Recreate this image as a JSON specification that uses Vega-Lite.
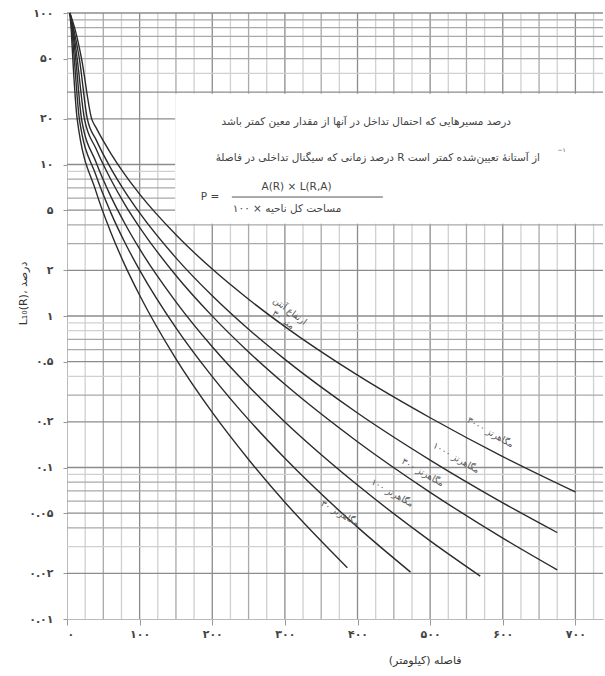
{
  "$schema": "https://vega.github.io/schema/vega-lite/v6.json",
  "width": 536,
  "height": 606,
  "autosize": {"type": "none"},
  "padding": {"left": 67, "top": 13, "right": 2, "bottom": 57},
  "background": "white",
  "config": {
    "view": {"stroke": null},
    "font": "DejaVu Sans",
    "axis": {
      "titleFont": "DejaVu Sans", "titleFontSize": 11, "titleFontWeight": "normal", "titleColor": "#333",
      "labelFont": "DejaVu Sans", "labelFontSize": 11, "labelFontWeight": "bold", "labelColor": "#444",
      "tickColor": "#999", "domainColor": "#bbb", "grid": false
    }
  },
  "datasets": {
    "vgrid": [
      {"d": 25, "cls": "minor"}, {"d": 50, "cls": "mid"}, {"d": 75, "cls": "minor"}, {"d": 100, "cls": "major"},
      {"d": 125, "cls": "minor"}, {"d": 150, "cls": "mid"}, {"d": 175, "cls": "minor"}, {"d": 200, "cls": "major"},
      {"d": 225, "cls": "minor"}, {"d": 250, "cls": "mid"}, {"d": 275, "cls": "minor"}, {"d": 300, "cls": "major"},
      {"d": 325, "cls": "minor"}, {"d": 350, "cls": "mid"}, {"d": 375, "cls": "minor"}, {"d": 400, "cls": "major"},
      {"d": 425, "cls": "minor"}, {"d": 450, "cls": "mid"}, {"d": 475, "cls": "minor"}, {"d": 500, "cls": "major"},
      {"d": 525, "cls": "minor"}, {"d": 550, "cls": "mid"}, {"d": 575, "cls": "minor"}, {"d": 600, "cls": "major"},
      {"d": 625, "cls": "minor"}, {"d": 650, "cls": "mid"}, {"d": 675, "cls": "minor"}, {"d": 700, "cls": "major"},
      {"d": 725, "cls": "minor"}
    ],
    "hgrid": [
      {"P": 0.02, "cls": "major"}, {"P": 0.03, "cls": "minor"}, {"P": 0.04, "cls": "mid"}, {"P": 0.05, "cls": "major"},
      {"P": 0.06, "cls": "mid"}, {"P": 0.07, "cls": "mid"}, {"P": 0.08, "cls": "mid"}, {"P": 0.09, "cls": "minor"},
      {"P": 0.1, "cls": "major"}, {"P": 0.2, "cls": "major"}, {"P": 0.3, "cls": "mid"}, {"P": 0.4, "cls": "minor"},
      {"P": 0.5, "cls": "major"}, {"P": 0.6, "cls": "mid"}, {"P": 0.7, "cls": "mid"}, {"P": 0.8, "cls": "minor"},
      {"P": 0.9, "cls": "minor"}, {"P": 1, "cls": "major"}, {"P": 2, "cls": "major"}, {"P": 3, "cls": "mid"},
      {"P": 4, "cls": "mid"}, {"P": 5, "cls": "major"}, {"P": 6, "cls": "mid"}, {"P": 7, "cls": "mid"},
      {"P": 8, "cls": "mid"}, {"P": 9, "cls": "minor"}, {"P": 10, "cls": "major"}, {"P": 20, "cls": "major"},
      {"P": 30, "cls": "major"}, {"P": 40, "cls": "minor"}, {"P": 50, "cls": "mid"}, {"P": 60, "cls": "mid"},
      {"P": 70, "cls": "mid"}, {"P": 80, "cls": "mid"}, {"P": 90, "cls": "mid"}, {"P": 100, "cls": "major"}
    ],
    "box": [{"d": 149, "d2": 738, "P": 29.3, "P2": 4.06}],
    "bar": [{"d": 227, "d2": 435, "P": 6.1}],
    "curves": [
      {"c": "A", "d": 4, "P": 100}, {"c": "A", "d": 12, "P": 75}, {"c": "A", "d": 20, "P": 50}, {"c": "A", "d": 34, "P": 20},
      {"c": "A", "d": 40, "P": 17.5}, {"c": "A", "d": 60, "P": 11.9}, {"c": "A", "d": 80, "P": 8.53}, {"c": "A", "d": 100, "P": 6.38},
      {"c": "A", "d": 150, "P": 3.44}, {"c": "A", "d": 200, "P": 2.04}, {"c": "A", "d": 250, "P": 1.29}, {"c": "A", "d": 300, "P": 0.851},
      {"c": "A", "d": 400, "P": 0.407}, {"c": "A", "d": 500, "P": 0.213}, {"c": "A", "d": 600, "P": 0.118}, {"c": "A", "d": 700, "P": 0.0689},
      {"c": "B", "d": 4, "P": 100}, {"c": "B", "d": 10, "P": 75}, {"c": "B", "d": 17, "P": 50}, {"c": "B", "d": 28, "P": 20},
      {"c": "B", "d": 40, "P": 14.6}, {"c": "B", "d": 60, "P": 9.5}, {"c": "B", "d": 80, "P": 6.6}, {"c": "B", "d": 100, "P": 4.79},
      {"c": "B", "d": 150, "P": 2.42}, {"c": "B", "d": 200, "P": 1.36}, {"c": "B", "d": 250, "P": 0.818}, {"c": "B", "d": 300, "P": 0.517},
      {"c": "B", "d": 400, "P": 0.229}, {"c": "B", "d": 500, "P": 0.112}, {"c": "B", "d": 600, "P": 0.0585}, {"c": "B", "d": 675, "P": 0.0372},
      {"c": "C", "d": 4, "P": 100}, {"c": "C", "d": 9, "P": 75}, {"c": "C", "d": 14, "P": 50}, {"c": "C", "d": 24, "P": 20},
      {"c": "C", "d": 40, "P": 12.7}, {"c": "C", "d": 60, "P": 8.02}, {"c": "C", "d": 80, "P": 5.42}, {"c": "C", "d": 100, "P": 3.85},
      {"c": "C", "d": 150, "P": 1.85}, {"c": "C", "d": 200, "P": 0.998}, {"c": "C", "d": 250, "P": 0.579}, {"c": "C", "d": 300, "P": 0.354},
      {"c": "C", "d": 400, "P": 0.148}, {"c": "C", "d": 500, "P": 0.0686}, {"c": "C", "d": 600, "P": 0.0342}, {"c": "C", "d": 675, "P": 0.0211},
      {"c": "D", "d": 4, "P": 100}, {"c": "D", "d": 8, "P": 75}, {"c": "D", "d": 12, "P": 50}, {"c": "D", "d": 20, "P": 20},
      {"c": "D", "d": 40, "P": 10.35}, {"c": "D", "d": 60, "P": 6.21}, {"c": "D", "d": 80, "P": 4.05}, {"c": "D", "d": 100, "P": 2.77},
      {"c": "D", "d": 150, "P": 1.24}, {"c": "D", "d": 200, "P": 0.626}, {"c": "D", "d": 250, "P": 0.344}, {"c": "D", "d": 300, "P": 0.2},
      {"c": "D", "d": 400, "P": 0.0766}, {"c": "D", "d": 500, "P": 0.0328}, {"c": "D", "d": 569, "P": 0.0192},
      {"c": "E", "d": 4, "P": 100}, {"c": "E", "d": 7, "P": 75}, {"c": "E", "d": 10, "P": 50}, {"c": "E", "d": 17, "P": 20},
      {"c": "E", "d": 40, "P": 8.45}, {"c": "E", "d": 60, "P": 4.85}, {"c": "E", "d": 80, "P": 3.03}, {"c": "E", "d": 100, "P": 2.01},
      {"c": "E", "d": 150, "P": 0.835}, {"c": "E", "d": 200, "P": 0.398}, {"c": "E", "d": 250, "P": 0.207}, {"c": "E", "d": 300, "P": 0.115},
      {"c": "E", "d": 400, "P": 0.0404}, {"c": "E", "d": 473, "P": 0.0204},
      {"c": "F", "d": 4, "P": 100}, {"c": "F", "d": 6, "P": 75}, {"c": "F", "d": 8, "P": 50}, {"c": "F", "d": 14, "P": 20},
      {"c": "F", "d": 40, "P": 6.62}, {"c": "F", "d": 60, "P": 3.6}, {"c": "F", "d": 80, "P": 2.15}, {"c": "F", "d": 100, "P": 1.37},
      {"c": "F", "d": 150, "P": 0.521}, {"c": "F", "d": 200, "P": 0.231}, {"c": "F", "d": 250, "P": 0.113}, {"c": "F", "d": 300, "P": 0.059},
      {"c": "F", "d": 386, "P": 0.0218}
    ],
    "labels1": [
      {"d": 307, "P": 1.08, "t": "ارتفاع آنتن\n۳۰ متر"}
    ],
    "labels2": [
      {"d": 583, "P": 0.171, "t": "۳۰۰۰ مگاهرتز"},
      {"d": 536, "P": 0.116, "t": "۱۰۰۰ مگاهرتز"},
      {"d": 490, "P": 0.093, "t": "۳۰۰ مگاهرتز"},
      {"d": 448, "P": 0.068, "t": "۱۰۰ مگاهرتز"},
      {"d": 376, "P": 0.05, "t": "۳۰ مگاهرتز"}
    ],
    "boxtext": [
      {"d": 412, "P": 19.08, "t": "درصد مسیرهایی که احتمال تداخل در آنها از مقدار معین کمتر باشد"},
      {"d": 428, "P": 11.04, "t": "درصد زمانی که سیگنال تداخلی در فاصلهٔ R از آستانهٔ تعیین‌شده کمتر است"},
      {"d": 316, "P": 7.11, "t": "A(R) × L(R,A)"},
      {"d": 303, "P": 5.08, "t": "۱۰۰ × مساحت کل ناحیه"},
      {"d": 197, "P": 6.1, "t": "P ="}
    ],
    "sup": [{"d": 681, "P": 12.47, "t": "−۱"}]
  },
  "layer": [
    {
      "data": {"name": "vgrid"},
      "mark": {"type": "rule", "strokeWidth": 1.3},
      "encoding": {
        "x": {
          "field": "d", "type": "quantitative", "title": "فاصله (کیلومتر)",
          "scale": {"domain": [0, 738], "nice": false, "zero": false},
          "axis": {
            "values": [0, 100, 200, 300, 400, 500, 600, 700],
            "labelExpr": "datum.value == 0 ? '۰' : datum.value == 100 ? '۱۰۰' : datum.value == 200 ? '۲۰۰' : datum.value == 300 ? '۳۰۰' : datum.value == 400 ? '۴۰۰' : datum.value == 500 ? '۵۰۰' : datum.value == 600 ? '۶۰۰' : '۷۰۰'",
            "titleX": 394, "titleY": 41, "titleBaseline": "middle", "titleAlign": "right",
            "tickSize": 6, "labelPadding": 3
          }
        },
        "color": {"field": "cls", "type": "nominal", "scale": {"domain": ["major", "mid", "minor"], "range": ["#8c8c8c", "#a9a9a9", "#d0d0d0"]}, "legend": null}
      }
    },
    {
      "data": {"name": "hgrid"},
      "mark": {"type": "rule", "strokeWidth": 1.3},
      "encoding": {
        "y": {
          "field": "P", "type": "quantitative", "title": "L₁₀(R)، درصد",
          "scale": {"type": "log", "domain": [0.01, 100], "nice": false},
          "axis": {
            "values": [100, 50, 20, 10, 5, 2, 1, 0.5, 0.2, 0.1, 0.05, 0.02, 0.01],
            "labelExpr": "datum.value == 100 ? '۱۰۰' : datum.value == 50 ? '۵۰' : datum.value == 20 ? '۲۰' : datum.value == 10 ? '۱۰' : datum.value == 5 ? '۵' : datum.value == 2 ? '۲' : datum.value == 1 ? '۱' : datum.value == 0.5 ? '۰.۵' : datum.value == 0.2 ? '۰.۲' : datum.value == 0.1 ? '۰.۱' : datum.value == 0.05 ? '۰.۰۵' : datum.value == 0.02 ? '۰.۰۲' : '۰.۰۱'",
            "titleX": -44, "titleY": 280, "titleAngle": 270, "titleBaseline": "middle", "titleAlign": "center",
            "tickSize": 4, "labelPadding": 10
          }
        },
        "color": {"field": "cls", "type": "nominal", "legend": null}
      }
    },
    {
      "data": {"name": "box"},
      "mark": {"type": "rect", "color": "white"},
      "encoding": {
        "x": {"field": "d", "type": "quantitative", "title": "فاصله (کیلومتر)"},
        "x2": {"field": "d2"},
        "y": {"field": "P", "type": "quantitative", "title": "L₁₀(R)، درصد"},
        "y2": {"field": "P2"}
      }
    },
    {
      "data": {"name": "bar"},
      "mark": {"type": "rule", "color": "#555", "strokeWidth": 1},
      "encoding": {
        "x": {"field": "d", "type": "quantitative", "title": "فاصله (کیلومتر)"},
        "x2": {"field": "d2"},
        "y": {"field": "P", "type": "quantitative", "title": "L₁₀(R)، درصد"}
      }
    },
    {
      "data": {"name": "curves"},
      "mark": {"type": "line", "color": "#2b2b2b", "strokeWidth": 1.4, "interpolate": "monotone"},
      "encoding": {
        "x": {"field": "d", "type": "quantitative", "title": "فاصله (کیلومتر)"},
        "y": {"field": "P", "type": "quantitative", "title": "L₁₀(R)، درصد"},
        "detail": {"field": "c", "type": "nominal"}
      }
    },
    {
      "data": {"name": "labels1"},
      "mark": {"type": "text", "font": "DejaVu Sans", "fontSize": 9, "color": "#555", "angle": 37, "lineBreak": "\n", "align": "center", "baseline": "middle"},
      "encoding": {
        "x": {"field": "d", "type": "quantitative", "title": "فاصله (کیلومتر)"},
        "y": {"field": "P", "type": "quantitative", "title": "L₁₀(R)، درصد"},
        "text": {"field": "t"}
      }
    },
    {
      "data": {"name": "labels2"},
      "mark": {"type": "text", "font": "DejaVu Sans", "fontSize": 9, "color": "#555", "angle": 30, "align": "center", "baseline": "middle"},
      "encoding": {
        "x": {"field": "d", "type": "quantitative", "title": "فاصله (کیلومتر)"},
        "y": {"field": "P", "type": "quantitative", "title": "L₁₀(R)، درصد"},
        "text": {"field": "t"}
      }
    },
    {
      "data": {"name": "boxtext"},
      "mark": {"type": "text", "font": "DejaVu Sans", "fontSize": 10.5, "color": "#444", "align": "center", "baseline": "middle"},
      "encoding": {
        "x": {"field": "d", "type": "quantitative", "title": "فاصله (کیلومتر)"},
        "y": {"field": "P", "type": "quantitative", "title": "L₁₀(R)، درصد"},
        "text": {"field": "t"}
      }
    },
    {
      "data": {"name": "sup"},
      "mark": {"type": "text", "font": "DejaVu Sans", "fontSize": 6, "color": "#444", "align": "center", "baseline": "middle"},
      "encoding": {
        "x": {"field": "d", "type": "quantitative", "title": "فاصله (کیلومتر)"},
        "y": {"field": "P", "type": "quantitative", "title": "L₁₀(R)، درصد"},
        "text": {"field": "t"}
      }
    }
  ]
}
